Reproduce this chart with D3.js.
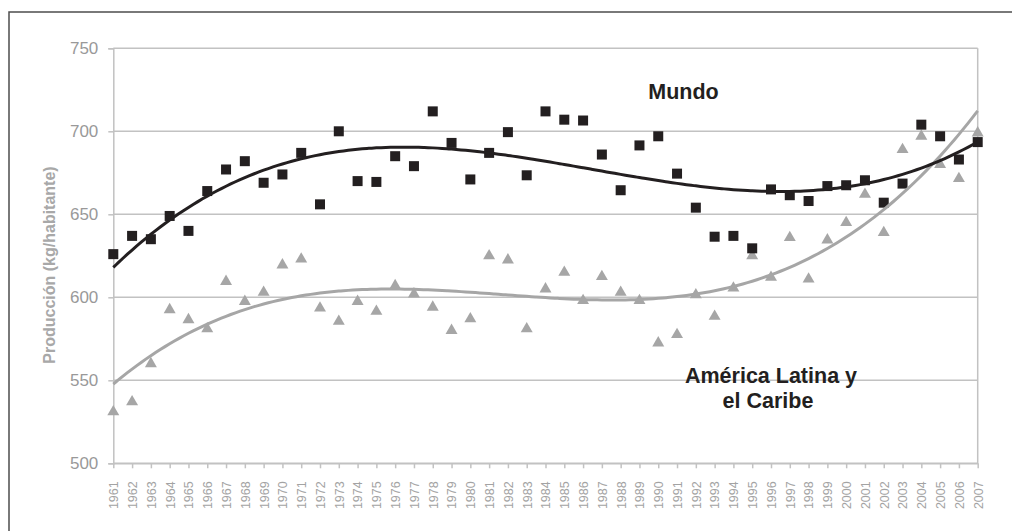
<!DOCTYPE html>
<html>
<head>
<meta charset="utf-8">
<script src="https://cdn.jsdelivr.net/npm/d3@7"></script>
<style>
  html, body { margin: 0; padding: 0; background: #fff; }
  svg { display: block; font-family: "Liberation Sans", Arial, sans-serif; }
</style>
</head>
<body>
<svg id="chart" width="1012" height="531"></svg>
<script>
// ---- data ----
const years = [1961,1962,1963,1964,1965,1966,1967,1968,1969,1970,1971,1972,1973,1974,1975,1976,1977,1978,1979,1980,
  1981,1982,1983,1984,1985,1986,1987,1988,1989,1990,1991,1992,1993,1994,1995,1996,1997,1998,1999,2000,
  2001,2002,2003,2004,2005,2006,2007];
const mundo = [626,637,635,649,640,664,677,682,669,674,687,656,700,670,669.5,685,679,712,693,671,
  687,699.5,673.5,712,707,706.5,686,664.5,691.5,697,674.5,654,636.5,637,629.5,665,661.5,658,667,667.5,
  670.5,657,668.5,704,697,683,693.5];
const alc = [531,537,560,592.5,586.5,581,609.5,597.5,603,619.5,623,593.5,585.5,597.5,591.5,607,602,594,580,587,
  625,622.5,581,605,615,598,612.5,603,598,572.5,577.5,601.5,588.5,605.5,625,612,636,611,634.5,645,
  662,639,689,697,680,671.5,699];
const yTicks = [500,550,600,650,700,750];
const seriesLabels = ["Mundo", "América Latina y", "el Caribe"];
const yTitle = "Producción (kg/habitante)";

// ---- layout ----
const svg = d3.select("#chart");
const pLeft = 113.3, pRight = 977.7, pTop = 48.3, pBottom = 463.3;

const x = d3.scalePoint().domain(years).range([pLeft, pRight]);
const y = d3.scaleLinear().domain([500, 750]).range([pBottom, pTop]);

// outer frame
svg.append("rect")
  .attr("x", 9).attr("y", 12).attr("width", 1040).attr("height", 560)
  .attr("fill", "none").attr("stroke", "#4d4d4d").attr("stroke-width", 1.5);

// gridlines
svg.append("g").selectAll("line").data(yTicks).join("line")
  .attr("x1", pLeft).attr("x2", pRight)
  .attr("y1", d => y(d)).attr("y2", d => y(d))
  .attr("stroke", "#c2c2c2").attr("stroke-width", 1.5);

// right border
svg.append("line").attr("x1", pRight).attr("x2", pRight).attr("y1", pTop).attr("y2", pBottom)
  .attr("stroke", "#c2c2c2").attr("stroke-width", 1.5);

// y axis
const yAxis = svg.append("g").attr("transform", `translate(${pLeft},0)`)
  .call(d3.axisLeft(y).tickValues(yTicks).tickSize(5).tickPadding(10).tickFormat(d3.format("d")));
yAxis.select(".domain").attr("stroke", "#c2c2c2").attr("stroke-width", 1.5);
yAxis.selectAll(".tick line").attr("stroke", "#c2c2c2").attr("stroke-width", 1.5);
yAxis.selectAll(".tick text").attr("fill", "#999").attr("font-size", 17)
  .attr("font-family", "Liberation Sans, Arial, sans-serif");

// x axis
const xAxis = svg.append("g").attr("transform", `translate(0,${pBottom})`)
  .call(d3.axisBottom(x).tickSize(5).tickSizeOuter(0));
xAxis.select(".domain").attr("stroke", "#c2c2c2").attr("stroke-width", 1.5);
xAxis.selectAll(".tick line").attr("stroke", "#c2c2c2").attr("stroke-width", 1.5);
xAxis.selectAll(".tick text")
  .attr("fill", "#a3a3a3").attr("font-size", 12.5)
  .attr("font-family", "Liberation Sans, Arial, sans-serif")
  .attr("text-anchor", "end")
  .attr("transform", "translate(0,18) rotate(-90)")
  .attr("x", 0).attr("y", 0).attr("dy", "0.35em");

// y title
svg.append("text")
  .attr("transform", "translate(49,265) rotate(-90)")
  .attr("text-anchor", "middle").attr("dy", "0.35em")
  .attr("font-size", 16).attr("font-weight", "bold").attr("fill", "#a8a8a8")
  .text(yTitle);

// ---- polynomial trend (least squares, order 3) ----
function polyFit(xs, ys, order) {
  const n = order + 1;
  const A = Array.from({length: n}, () => new Array(n + 1).fill(0));
  xs.forEach((xv, k) => {
    for (let i = 0; i < n; i++) {
      for (let j = 0; j < n; j++) A[i][j] += Math.pow(xv, i + j);
      A[i][n] += ys[k] * Math.pow(xv, i);
    }
  });
  for (let c = 0; c < n; c++) {
    let p = c;
    for (let r = c + 1; r < n; r++) if (Math.abs(A[r][c]) > Math.abs(A[p][c])) p = r;
    [A[c], A[p]] = [A[p], A[c]];
    for (let r = 0; r < n; r++) {
      if (r === c) continue;
      const f = A[r][c] / A[c][c];
      for (let k = c; k <= n; k++) A[r][k] -= f * A[c][k];
    }
  }
  return A.map((row, i) => row[n] / row[i]);
}
const t0 = 1984, ts = 23;
const norm = yr => (yr - t0) / ts;
function trendPts(vals) {
  const coef = polyFit(years.map(norm), vals, 3);
  const pts = [];
  for (let yr = years[0]; yr <= years[years.length - 1] + 1e-9; yr += 0.25) {
    const t = norm(yr);
    pts.push([yr, coef.reduce((s, c, i) => s + c * Math.pow(t, i), 0)]);
  }
  return pts;
}
const xc = d3.scaleLinear().domain([years[0], years[years.length - 1]]).range([pLeft, pRight]);
const line = d3.line().x(d => xc(d[0])).y(d => y(d[1])).curve(d3.curveCatmullRom);

// markers
svg.append("g").selectAll("path").data(alc).join("path")
  .attr("d", d3.symbol().type(d3.symbolTriangle).size(62))
  .attr("transform", (d, i) => `translate(${x(years[i])},${y(d)})`)
  .attr("fill", "#a6a6a6");
svg.append("g").selectAll("rect").data(mundo).join("rect")
  .attr("x", (d, i) => x(years[i]) - 5).attr("y", d => y(d) - 5)
  .attr("width", 10).attr("height", 10)
  .attr("fill", "#231f20");

// trend lines
svg.append("path").datum(trendPts(alc)).attr("d", line)
  .attr("fill", "none").attr("stroke", "#a6a6a6").attr("stroke-width", 3);
svg.append("path").datum(trendPts(mundo)).attr("d", line)
  .attr("fill", "none").attr("stroke", "#231f20").attr("stroke-width", 3);

// series labels
svg.append("text").attr("x", 683.5).attr("y", 98.5).attr("text-anchor", "middle")
  .attr("font-size", 21.5).attr("font-weight", "bold").attr("fill", "#231f20")
  .text(seriesLabels[0]);
svg.append("text").attr("x", 771).attr("y", 382.5).attr("text-anchor", "middle")
  .attr("font-size", 21.5).attr("font-weight", "bold").attr("fill", "#231f20")
  .text(seriesLabels[1]);
svg.append("text").attr("x", 768).attr("y", 407.5).attr("text-anchor", "middle")
  .attr("font-size", 21.5).attr("font-weight", "bold").attr("fill", "#231f20")
  .text(seriesLabels[2]);
</script>
</body>
</html>
